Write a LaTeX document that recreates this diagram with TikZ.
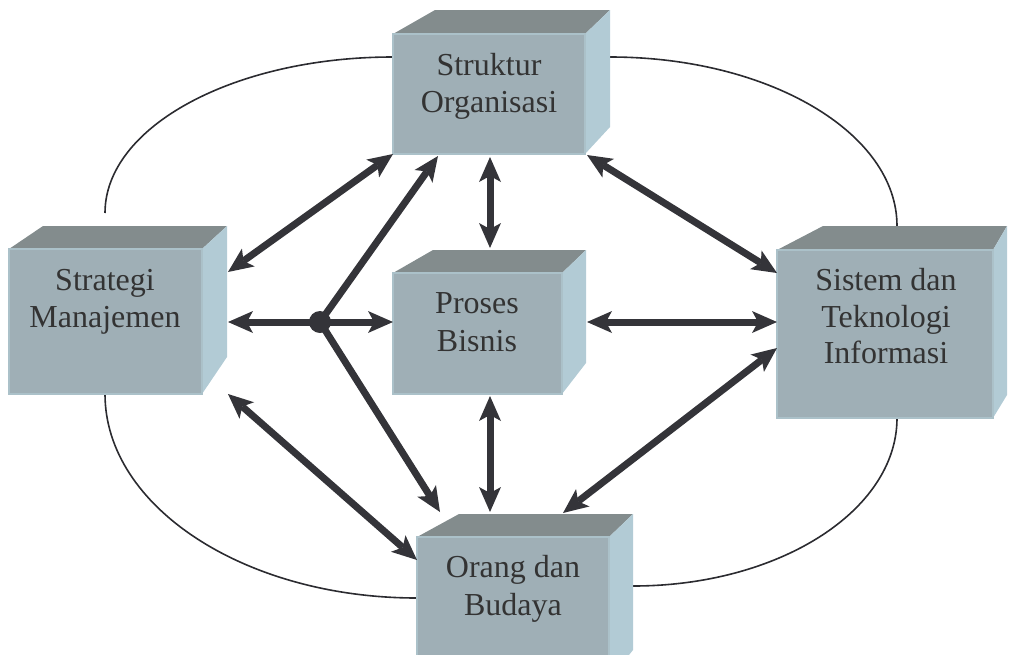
\documentclass[tikz,border=0pt]{standalone}
\usepackage{fontspec}
\setmainfont{Liberation Serif}
\usetikzlibrary{arrows.meta,calc}

\definecolor{arrowcol}{HTML}{343439}
\definecolor{curvecol}{HTML}{2B2B30}
\definecolor{frontcol}{HTML}{9FAFB6}
\definecolor{edgecol}{HTML}{ABC1C9}
\definecolor{topcol}{HTML}{838C8D}
\definecolor{sidecol}{HTML}{B2CBD5}
\definecolor{textcol}{HTML}{333333}

% A box in perspective: name, front x1, y1, x2, y2, back-left shift, back-right shift, depth, bottom y of the back edge of the side face
\newcommand\drawcube[9]{%
  \fill[topface] (#2,#3) -- ({#2+#6},{#3-#8}) -- ({#4+#7},{#3-#8}) -- (#4,#3) -- cycle;
  \fill[sideface] (#4,#3) -- ({#4+#7},{#3-#8}) -- ({#4+#7},#9) -- (#4,#5) -- cycle;
  \node[frontface, minimum width={(#4-#2)*1pt}, minimum height={(#5-#3)*1pt}]
    (#1) at ({(#2+#4)/2},{(#3+#5)/2}) {};
}

\begin{document}
\begin{tikzpicture}[x=1pt, y=-1pt,
  topface/.style={fill=topcol},
  sideface/.style={fill=sidecol},
  frontface/.style={rectangle, fill=frontcol, draw=edgecol, line width=1.2pt,
    inner sep=0pt, outer sep=0pt},
  txt/.style={anchor=base, inner sep=0pt, text=textcol,
    font=\fontsize{32}{37}\selectfont},
  curve/.style={draw=curvecol, line width=1.6pt},
  link/.style={draw=arrowcol, line width=7pt,
    >={Stealth[length=25pt, width=22pt, inset=6pt, line width=0pt]}},
  hubdot/.style={circle, fill=arrowcol, minimum size=22pt, inner sep=0pt}]

\useasboundingbox (0,0) rectangle (1009,654);
\clip (0,0) rectangle (1009,654);

% outer ring, in four quarters between the boxes
\draw[curve] (105,213) .. controls (105,126.8) and (233.9,57) .. (393,57);
\draw[curve] (610,57) .. controls (768.5,57) and (897,132.7) .. (897,226);
\draw[curve] (105,394) .. controls (105,506.7) and (244.7,598) .. (417,598);
\draw[curve] (897,418) .. controls (897,510.8) and (778.8,586) .. (633,586);

% boxes
\drawcube{T}{393}{34}{585}{154}{42}{25}{24}{127}
\drawcube{L}{9}{249}{202}{394}{34}{25}{23}{357}
\drawcube{C}{393}{273}{562}{394}{40}{24}{23}{363}
\drawcube{R}{777}{250}{993}{418}{46}{14}{24}{395}
\drawcube{B}{417}{537}{609}{680}{42}{24}{23}{650}

% labels
\node[txt] (t1) at (489,75) {Struktur};
\node[txt] (t2) at (489,112) {Organisasi};
\node[txt] (l1) at (105,290) {Strategi};
\node[txt] (l2) at (105,327) {Manajemen};
\node[txt] (c1) at (477,313) {Proses};
\node[txt] (c2) at (477,351) {Bisnis};
\node[txt] (r1) at (886,290) {Sistem dan};
\node[txt] (r2) at (886,327) {Teknologi};
\node[txt] (r3) at (886,363) {Informasi};
\node[txt] (b1) at (513,577) {Orang dan};
\node[txt] (b2) at (513,615) {Budaya};

% arrow end points
\coordinate (hubpt) at (320,322);
\coordinate (aL1) at (228,272);
\coordinate (aL2) at (228,322);
\coordinate (aL3) at (228,394);
\coordinate (aT2) at (438,156);
\coordinate (aT3) at (490,157);
\coordinate (aT4) at (587,155);
\coordinate (aC1) at (490,248);
\coordinate (aC2) at (393,322);
\coordinate (aC3) at (587,322);
\coordinate (aC4) at (490,396);
\coordinate (aR1) at (777,273);
\coordinate (aR2) at (777,322);
\coordinate (aR3) at (777,348);
\coordinate (aB1) at (417,560);
\coordinate (aB2) at (440,512);
\coordinate (aB3) at (490,512);
\coordinate (aB4) at (563,513);

% connectors
\draw[link, <->] (aL1) -- (T.south west);
\draw[link, ->] (hubpt) -- (aT2);
\draw[link, <->] (aT3) -- (aC1);
\draw[link, <->] (aT4) -- (aR1);
\draw[link, <->] (aL2) -- (aC2);
\draw[link, <->] (aC3) -- (aR2);
\draw[link, ->] (hubpt) -- (aB2);
\draw[link, <->] (aL3) -- (aB1);
\draw[link, <->] (aC4) -- (aB3);
\draw[link, <->] (aR3) -- (aB4);
\node[hubdot] (hub) at (hubpt) {};

\end{tikzpicture}
\end{document}
